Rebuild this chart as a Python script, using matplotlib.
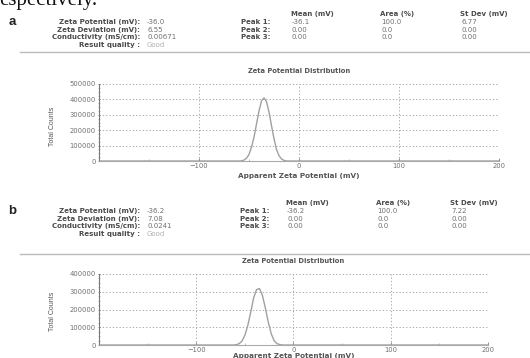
#!/usr/bin/env python3
import numpy as np
import matplotlib
matplotlib.use("Agg")
import matplotlib.pyplot as plt
from matplotlib.ticker import MultipleLocator

# ------------------------------------------------------------------------
# DATA
# ------------------------------------------------------------------------
summary_labels = ["Zeta Potential (mV):", "Zeta Deviation (mV):",
                  "Conductivity (mS/cm):", "Result quality :"]
summary_a = ["-36.0", "6.55", "0.00671", "Good"]
summary_b = ["-36.2", "7.08", "0.0241", "Good"]

peak_labels = ["Peak 1:", "Peak 2:", "Peak 3:"]
peak_headers = ["Mean (mV)", "Area (%)", "St Dev (mV)"]
peaks_a = [["-36.1", "100.0", "6.77"],
           ["0.00", "0.0", "0.00"],
           ["0.00", "0.0", "0.00"]]
peaks_b = [["-36.2", "100.0", "7.22"],
           ["0.00", "0.0", "0.00"],
           ["0.00", "0.0", "0.00"]]

# distribution curves (mV, total counts)
zeta_a = [-200, -60, -57.5, -55, -52.5, -50, -47.5, -45, -42.5, -40, -37.5, -35,
          -32.5, -30, -27.5, -25, -22.5, -20, -17.5, -15, -12.5, 200]
counts_a = [0, 0, 1000, 6000, 18000, 42000, 90000, 155000, 240000, 325000, 390000, 410000,
            385000, 318000, 230000, 145000, 75000, 35000, 13000, 4000, 0, 0]
zeta_b = [-200, -62, -59, -56, -53, -50, -47, -44, -41, -38, -35,
          -32, -29, -26, -23, -20, -17, -14, -11, 200]
counts_b = [0, 0, 1500, 7000, 22000, 55000, 110000, 185000, 265000, 312000, 318000,
            280000, 210000, 130000, 65000, 25000, 8000, 2000, 0, 0]

xticks = [-100, 0, 100, 200]

W, H = 530, 358
fig = plt.figure(figsize=(W / 100, H / 100), dpi=100)
plt.rcParams['font.family'] = ['DejaVu Sans']

TXT = "#4a4a4a"
VAL = "#707070"


def fx(x):
    return x / W


def fy(y):
    return 1 - y / H


def px_axes(l, t, r, b):
    return fig.add_axes([fx(l), fy(b), (r - l) / W, (b - t) / H])


# cropped caption line from the page above
fig.text(fx(-1), fy(5), "espectively.", family="Liberation Serif",
         fontsize=15, color="#111111", va="baseline", ha="left")


def panel(letter, y0, lab_x, val_x, pk_lab_x, cols, summ, peaks, sep_y):
    fs = 5.0
    fig.text(fx(12), fy(y0), letter, fontsize=9.5, fontweight="bold",
             family="Liberation Sans", color="#222222", va="center", ha="center")
    rows = [y0 + i * 7.6 for i in range(4)]
    for lab, val, y in zip(summary_labels, summ, rows):
        fig.text(fx(lab_x), fy(y), lab, fontsize=fs, fontweight="bold",
                 color=TXT, ha="right", va="center")
        fig.text(fx(val_x), fy(y), val, fontsize=fs,
                 color="#b0b0b0" if val == "Good" else VAL,
                 ha="left", va="center")
    for hdr, cx in zip(peak_headers, cols):
        fig.text(fx(cx), fy(y0 - 8), hdr, fontsize=fs, fontweight="bold",
                 color=TXT, ha="left", va="center")
    for i, (lab, row) in enumerate(zip(peak_labels, peaks)):
        fig.text(fx(pk_lab_x), fy(rows[i]), lab, fontsize=fs, fontweight="bold",
                 color=TXT, ha="right", va="center")
        for val, cx in zip(row, cols):
            fig.text(fx(cx + 1), fy(rows[i]), val, fontsize=fs,
                     color=VAL, ha="left", va="center")
    fig.add_artist(plt.Line2D([fx(20), fx(530)], [fy(sep_y), fy(sep_y)],
                              color="#bbbbbb", lw=1.0))


def dist_plot(ax, x, y, ymax, title_y, xlabel_y, left, right):
    ax.plot(x, y, color="#a0a0a0", lw=1.0)
    ax.set_xlim(-200, 200)
    ax.set_ylim(0, ymax)
    ax.set_xticks(xticks)
    ax.xaxis.set_minor_locator(MultipleLocator(50))
    ax.yaxis.set_minor_locator(MultipleLocator(25000))
    ax.set_yticks(np.arange(0, ymax + 1, 100000))
    ax.set_yticklabels([str(int(v)) for v in np.arange(0, ymax + 1, 100000)])
    ax.grid(True, which="major", linestyle=(0, (1.5, 2.5)), color="#999999", lw=0.6)
    for s in ["top", "right"]:
        ax.spines[s].set_visible(False)
    ax.spines["left"].set_color("#777777")
    ax.spines["left"].set_linewidth(0.8)
    ax.spines["bottom"].set_color("#aaaaaa")
    ax.spines["bottom"].set_linewidth(0.8)
    ax.tick_params(axis="both", which="major", labelsize=4.9, colors="#666666",
                   length=2, width=0.5, pad=1.5)
    ax.tick_params(axis="both", which="minor", length=1.2, width=0.4, colors="#888888")
    ax.tick_params(axis="x", which="both", direction="in")
    ax.tick_params(axis="y", which="both", direction="inout")
    for lbl in ax.get_xticklabels() + ax.get_yticklabels():
        lbl.set_color("#707070")
    ax.set_facecolor("white")
    cx = fx((left + right) / 2)
    fig.text(cx, fy(title_y), "Zeta Potential Distribution", fontsize=4.9,
             fontweight="bold", color="#555555", ha="center", va="center")
    fig.text(cx, fy(xlabel_y), "Apparent Zeta Potential (mV)", fontsize=5.2,
             fontweight="bold", color="#555555", ha="center", va="center")
    fig.text(fx(52), fy((title_y + xlabel_y) / 2 + 3), "Total Counts", fontsize=5.0,
             family="Liberation Sans", color="#555555", rotation=90,
             ha="center", va="center")


# ------------------------------------------------------------------------
# PANEL a
# ------------------------------------------------------------------------
panel("a", 22, 140, 147, 270, [291, 380, 460], summary_a, peaks_a, 52)
ax_a = px_axes(99, 84, 499, 161)
dist_plot(ax_a, zeta_a, counts_a, 500000, 71, 176, 99, 499)

# ------------------------------------------------------------------------
# PANEL b
# ------------------------------------------------------------------------
panel("b", 211, 140, 147, 269, [286, 376, 450], summary_b, peaks_b, 254)
ax_b = px_axes(99, 274, 488, 345)
dist_plot(ax_b, zeta_b, counts_b, 400000, 261, 356, 99, 488)

fig.savefig("out.png", dpi=100)
